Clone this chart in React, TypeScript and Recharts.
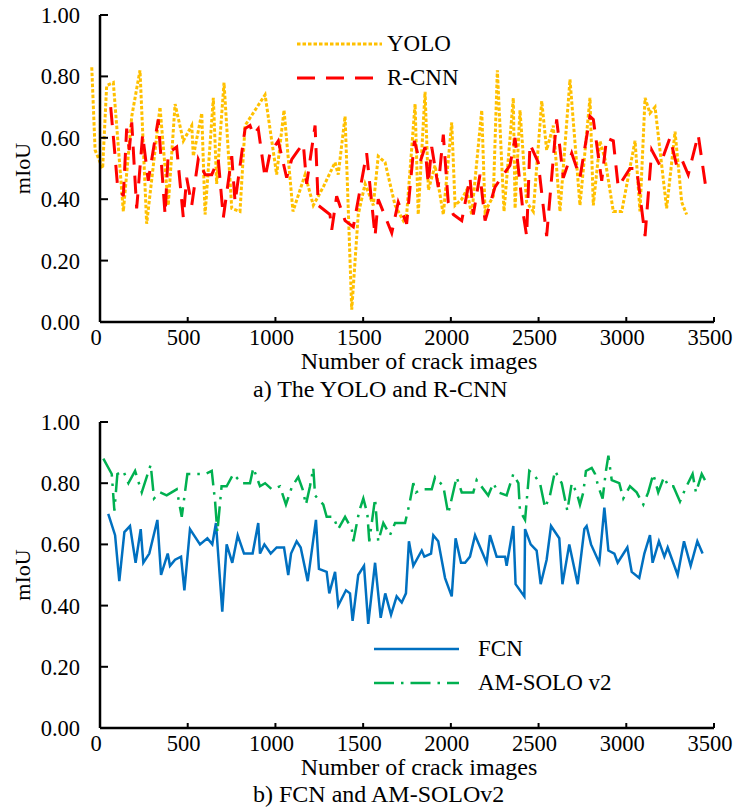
import React from "react";
import { LineChart, Line, XAxis, YAxis, Legend } from "recharts";

const FONT = '"Liberation Serif", "Times New Roman", serif';

const xTicks = [0, 500, 1000, 1500, 2000, 2500, 3000, 3500];
const yTicks = [0, 0.2, 0.4, 0.6, 0.8, 1.0];

// a) YOLO and R-CNN
const yoloX = [-47, -28, 15, 38, 76, 133, 181, 228, 266, 342, 389, 428, 475, 523, 532, 580, 599, 646, 665, 707, 751, 798, 827, 941, 1007, 1049, 1100, 1169, 1216, 1273, 1340, 1358, 1397, 1435, 1472, 1511, 1558, 1586, 1625, 1682, 1729, 1748, 1796, 1814, 1853, 1872, 1910, 1957, 2005, 2024, 2062, 2090, 2119, 2176, 2195, 2242, 2265, 2303, 2356, 2366, 2394, 2432, 2470, 2518, 2546, 2584, 2622, 2679, 2736, 2793, 2812, 2850, 2879, 2926, 2974, 3050, 3078, 3107, 3135, 3164, 3230, 3278, 3316, 3344];
const yoloMiou = [0.83, 0.56, 0.5, 0.77, 0.78, 0.36, 0.67, 0.82, 0.32, 0.7, 0.38, 0.71, 0.59, 0.64, 0.54, 0.68, 0.35, 0.73, 0.45, 0.78, 0.37, 0.36, 0.64, 0.74, 0.48, 0.69, 0.36, 0.48, 0.38, 0.44, 0.52, 0.48, 0.67, 0.04, 0.35, 0.45, 0.38, 0.54, 0.52, 0.38, 0.33, 0.35, 0.71, 0.35, 0.75, 0.43, 0.51, 0.35, 0.65, 0.38, 0.4, 0.43, 0.35, 0.69, 0.36, 0.41, 0.82, 0.36, 0.73, 0.37, 0.69, 0.39, 0.36, 0.72, 0.56, 0.64, 0.36, 0.79, 0.38, 0.73, 0.38, 0.59, 0.53, 0.36, 0.36, 0.59, 0.36, 0.73, 0.68, 0.7, 0.37, 0.62, 0.39, 0.35];

const rcnnX = [61, 86, 99, 133, 152, 167, 181, 209, 243, 275, 332, 371, 389, 437, 475, 494, 523, 560, 599, 637, 674, 703, 751, 770, 827, 855, 874, 902, 941, 969, 1016, 1064, 1093, 1130, 1159, 1178, 1226, 1244, 1311, 1321, 1349, 1397, 1444, 1520, 1568, 1586, 1663, 1700, 1748, 1792, 1824, 1853, 1871, 1891, 1928, 1957, 1985, 2014, 2062, 2109, 2128, 2166, 2195, 2252, 2299, 2337, 2366, 2413, 2432, 2451, 2498, 2546, 2603, 2641, 2689, 2736, 2793, 2812, 2860, 2888, 2926, 2954, 3021, 3059, 3107, 3145, 3192, 3249, 3287, 3316, 3353, 3410, 3458];
const rcnnMiou = [0.7, 0.54, 0.45, 0.41, 0.63, 0.56, 0.65, 0.37, 0.61, 0.46, 0.66, 0.35, 0.55, 0.57, 0.34, 0.47, 0.38, 0.53, 0.48, 0.48, 0.53, 0.34, 0.54, 0.39, 0.63, 0.64, 0.61, 0.63, 0.47, 0.55, 0.59, 0.47, 0.53, 0.56, 0.58, 0.45, 0.64, 0.38, 0.35, 0.3, 0.41, 0.33, 0.31, 0.55, 0.28, 0.4, 0.29, 0.39, 0.32, 0.59, 0.52, 0.57, 0.45, 0.57, 0.44, 0.61, 0.39, 0.35, 0.33, 0.47, 0.35, 0.48, 0.33, 0.44, 0.48, 0.51, 0.6, 0.35, 0.28, 0.58, 0.52, 0.28, 0.66, 0.47, 0.55, 0.47, 0.67, 0.66, 0.46, 0.6, 0.59, 0.44, 0.5, 0.5, 0.28, 0.56, 0.51, 0.6, 0.51, 0.53, 0.48, 0.61, 0.42];

// b) FCN and AM-SOLO v2
const fcnX = [47, 86, 110, 139, 171, 203, 232, 247, 281, 327, 348, 386, 399, 428, 462, 481, 513, 570, 612, 640, 661, 697, 722, 754, 785, 821, 870, 902, 912, 937, 973, 1007, 1049, 1073, 1089, 1121, 1144, 1184, 1231, 1248, 1292, 1307, 1340, 1358, 1402, 1425, 1440, 1472, 1505, 1529, 1568, 1600, 1626, 1659, 1691, 1720, 1744, 1761, 1786, 1834, 1849, 1887, 1900, 1928, 1967, 2005, 2027, 2058, 2081, 2109, 2138, 2204, 2223, 2261, 2309, 2318, 2356, 2369, 2419, 2423, 2455, 2489, 2512, 2546, 2571, 2618, 2636, 2675, 2723, 2761, 2774, 2799, 2846, 2875, 2898, 2932, 2951, 3006, 3031, 3074, 3103, 3135, 3150, 3186, 3217, 3236, 3293, 3329, 3367, 3405, 3435];
const fcnMiou = [0.7, 0.63, 0.48, 0.64, 0.66, 0.54, 0.65, 0.54, 0.57, 0.68, 0.5, 0.57, 0.53, 0.55, 0.56, 0.45, 0.65, 0.6, 0.62, 0.6, 0.67, 0.38, 0.6, 0.54, 0.63, 0.57, 0.57, 0.67, 0.57, 0.6, 0.57, 0.59, 0.59, 0.5, 0.57, 0.61, 0.59, 0.48, 0.68, 0.52, 0.51, 0.44, 0.51, 0.4, 0.45, 0.44, 0.35, 0.5, 0.53, 0.34, 0.54, 0.36, 0.44, 0.37, 0.43, 0.41, 0.44, 0.61, 0.53, 0.58, 0.56, 0.57, 0.63, 0.61, 0.49, 0.43, 0.62, 0.54, 0.54, 0.56, 0.63, 0.54, 0.63, 0.56, 0.56, 0.53, 0.66, 0.47, 0.43, 0.65, 0.6, 0.58, 0.47, 0.55, 0.66, 0.62, 0.47, 0.6, 0.47, 0.65, 0.66, 0.6, 0.54, 0.72, 0.58, 0.57, 0.54, 0.59, 0.51, 0.49, 0.57, 0.63, 0.54, 0.61, 0.56, 0.59, 0.5, 0.61, 0.53, 0.61, 0.57];

const soloX = [19, 67, 82, 99, 133, 162, 200, 238, 266, 289, 308, 342, 380, 437, 466, 498, 542, 599, 637, 656, 669, 693, 722, 760, 808, 855, 874, 912, 941, 979, 1026, 1060, 1095, 1130, 1155, 1174, 1197, 1216, 1226, 1273, 1292, 1330, 1358, 1397, 1435, 1444, 1478, 1501, 1524, 1535, 1568, 1586, 1615, 1653, 1682, 1739, 1763, 1786, 1801, 1834, 1891, 1910, 1957, 1985, 2033, 2062, 2128, 2147, 2213, 2242, 2270, 2318, 2356, 2385, 2394, 2423, 2447, 2470, 2508, 2537, 2565, 2594, 2632, 2664, 2689, 2717, 2736, 2755, 2770, 2803, 2822, 2840, 2865, 2884, 2898, 2917, 2960, 2983, 3021, 3059, 3097, 3125, 3154, 3182, 3215, 3240, 3268, 3306, 3335, 3378, 3397, 3430, 3458];
const soloMiou = [0.88, 0.83, 0.71, 0.83, 0.84, 0.8, 0.84, 0.77, 0.82, 0.86, 0.75, 0.77, 0.76, 0.78, 0.69, 0.83, 0.83, 0.83, 0.84, 0.74, 0.64, 0.79, 0.79, 0.83, 0.8, 0.8, 0.85, 0.79, 0.8, 0.78, 0.79, 0.73, 0.79, 0.82, 0.78, 0.73, 0.79, 0.85, 0.76, 0.73, 0.69, 0.69, 0.65, 0.69, 0.65, 0.61, 0.71, 0.75, 0.7, 0.61, 0.75, 0.61, 0.67, 0.63, 0.67, 0.67, 0.73, 0.8, 0.77, 0.78, 0.78, 0.82, 0.79, 0.7, 0.82, 0.77, 0.77, 0.81, 0.76, 0.8, 0.77, 0.76, 0.83, 0.8, 0.71, 0.68, 0.84, 0.83, 0.8, 0.72, 0.76, 0.84, 0.8, 0.71, 0.8, 0.77, 0.73, 0.77, 0.84, 0.85, 0.83, 0.79, 0.75, 0.84, 0.89, 0.81, 0.8, 0.75, 0.79, 0.77, 0.73, 0.77, 0.83, 0.77, 0.82, 0.79, 0.79, 0.74, 0.78, 0.83, 0.77, 0.83, 0.8];

const toPoints = (xs: number[], ys: number[]) => xs.map((x, i) => ({ x, miou: ys[i] }));

type Series = { name: string; data: { x: number; miou: number }[]; color: string; width: number; dash?: string };

const topSeries: Series[] = [
  { name: "YOLO", data: toPoints(yoloX, yoloMiou), color: "#FFC000", width: 3, dash: "3.5 2" },
  { name: "R-CNN", data: toPoints(rcnnX, rcnnMiou), color: "#FF0000", width: 3, dash: "18 11" },
];

const bottomSeries: Series[] = [
  { name: "FCN", data: toPoints(fcnX, fcnMiou), color: "#0070C0", width: 2.5 },
  { name: "AM-SOLO v2", data: toPoints(soloX, soloMiou), color: "#00B050", width: 2.5, dash: "20 7 2.5 7" },
];

function MiouLabel(props: any) {
  const vb = props.viewBox || { x: 0, y: 0, width: 100, height: 300 };
  const cx = vb.x + 22;
  const cy = vb.y + vb.height / 2;
  return (
    <text x={cx} y={cy} transform={`rotate(-90 ${cx} ${cy})`} textAnchor="middle" dominantBaseline="central" fill="#000" fontSize={22}>
      mIoU
    </text>
  );
}

// legend rows follow the series order (recharts sorts the payload by name)
function LegendBox({ series, gap }: { series: Series[]; gap: number }) {
  return (
    <div>
      {series.map((s) => (
        <div key={s.name} style={{ display: "flex", alignItems: "center", height: 34 }}>
          <svg width={85} height={34}>
            <line x1={0} x2={85} y1={17} y2={17} stroke={s.color} strokeWidth={s.width} strokeDasharray={s.dash} />
          </svg>
          <span style={{ marginLeft: gap, fontSize: 23, fontFamily: FONT, color: "#000", whiteSpace: "nowrap" }}>{s.name}</span>
        </div>
      ))}
    </div>
  );
}

type PanelProps = {
  top: number;
  height: number;
  plotTop: number;
  axisHeight: number;
  titleOffset: number;
  series: Series[];
  legendLeft: number;
  legendTop: number;
  legendGap: number;
  caption: string;
  captionTop: number;
};

function Panel(p: PanelProps) {
  const tickStyle = { fill: "#000", fontSize: 22.5 };
  return (
    <>
      <div style={{ position: "absolute", left: 0, top: p.top }}>
        <LineChart width={742} height={p.height} margin={{ top: p.plotTop, right: 28, bottom: 0, left: 0 }}>
          <XAxis
            type="number"
            dataKey="x"
            domain={[0, 3500]}
            ticks={xTicks}
            interval={0}
            allowDataOverflow
            height={p.axisHeight}
            axisLine={{ stroke: "#000", strokeWidth: 2.5 }}
            tickLine={{ stroke: "#000", strokeWidth: 2 }}
            tickSize={-5}
            tickMargin={12}
            tick={{ ...tickStyle, dx: -4 }}
            label={{ value: "Number of crack images", position: "insideBottom", offset: p.titleOffset, dx: 12, fill: "#000", fontSize: 24 }}
          />
          <YAxis
            type="number"
            domain={[0, 1]}
            ticks={yTicks}
            interval={0}
            width={100}
            axisLine={{ stroke: "#000", strokeWidth: 2.5 }}
            tickLine={{ stroke: "#000", strokeWidth: 2 }}
            tickSize={-8}
            tickMargin={28}
            tickFormatter={(v: number) => v.toFixed(2)}
            tick={tickStyle}
            label={MiouLabel}
          />
          {p.series.map((s) => (
            <Line
              key={s.name}
              data={s.data}
              dataKey="miou"
              name={s.name}
              type="linear"
              stroke={s.color}
              strokeWidth={s.width}
              strokeDasharray={s.dash}
              dot={false}
              activeDot={false}
              isAnimationActive={false}
            />
          ))}
          <Legend
            layout="vertical"
            align="center"
            verticalAlign="middle"
            wrapperStyle={{ left: p.legendLeft, top: p.legendTop, width: 260 }}
            content={() => <LegendBox series={p.series} gap={p.legendGap} />}
          />
        </LineChart>
      </div>
      <div style={{ position: "absolute", left: 253, top: p.captionTop, fontSize: 24, lineHeight: 1, fontFamily: FONT, whiteSpace: "nowrap", color: "#000" }}>
        {p.caption}
      </div>
    </>
  );
}

export default function App() {
  return (
    <div style={{ position: "absolute", left: 0, top: 0, width: 742, height: 811, background: "#fff", fontFamily: FONT }}>
      <style>{`
        .recharts-line-curve { clip-path: none; }
        .recharts-wrapper svg text { font-family: "Liberation Serif", "Times New Roman", serif !important; }
      `}</style>
      <Panel
        top={0}
        height={400}
        plotTop={15}
        axisHeight={78}
        titleOffset={31}
        series={topSeries}
        legendLeft={297}
        legendTop={27}
        legendGap={5}
        caption="a) The YOLO and R-CNN"
        captionTop={377}
      />
      <Panel
        top={400}
        height={411}
        plotTop={22}
        axisHeight={83}
        titleOffset={36}
        series={bottomSeries}
        legendLeft={374}
        legendTop={232}
        legendGap={19}
        caption="b) FCN and AM-SOLOv2"
        captionTop={782}
      />
    </div>
  );
}
